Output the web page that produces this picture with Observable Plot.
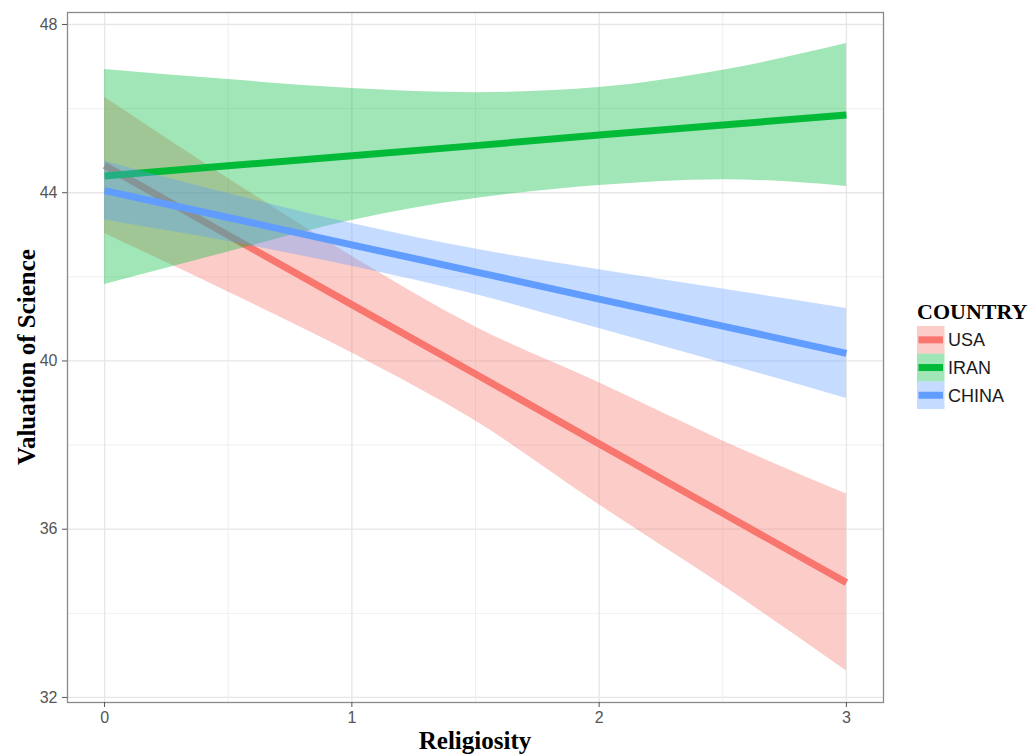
<!DOCTYPE html>
<html>
<head>
<meta charset="utf-8">
<script src="https://cdn.jsdelivr.net/npm/d3@7"></script>
<script src="https://cdn.jsdelivr.net/npm/@observablehq/plot@0.6"></script>
<style>
  html, body { margin: 0; padding: 0; background: #fff; }
  #chart { position: relative; width: 1029px; height: 755px; }
</style>
</head>
<body>
<div id="chart"></div>
<script>
// ---- data ----
const countries = ["USA", "IRAN", "CHINA"];
const colors = ["#F8766D", "#00BA38", "#619CFF"];
const religiosity = [0, 0.5, 1, 1.5, 2, 2.5, 3];

const usaFit   = [44.65, 42.99, 41.34, 39.69, 38.03, 36.38, 34.73];
const usaLow   = [43.03, 41.64, 40.19, 38.57, 36.58, 34.66, 32.63];
const usaHigh  = [46.27, 44.34, 42.49, 40.81, 39.48, 38.10, 36.84];

const iranFit  = [44.40, 44.64, 44.88, 45.12, 45.37, 45.61, 45.85];
const iranLow  = [41.82, 42.59, 43.34, 43.86, 44.17, 44.31, 44.15];
const iranHigh = [46.93, 46.69, 46.48, 46.38, 46.50, 46.91, 47.55];

const chinaFit  = [44.05, 43.41, 42.76, 42.12, 41.47, 40.83, 40.18];
const chinaLow  = [43.35, 42.84, 42.25, 41.58, 40.77, 39.95, 39.11];
const chinaHigh = [44.75, 43.98, 43.27, 42.66, 42.17, 41.71, 41.25];

const xTicks = [0, 1, 2, 3];
const xMinor = [0.5, 1.5, 2.5];
const yTicks = [32, 36, 40, 44, 48];
const yMinor = [34, 38, 42, 46];

const xLabel = "Religiosity";
const yLabel = "Valuation of Science";
const legendTitle = "COUNTRY";

// ---- build table ----
const series = [
  {country: "USA", fit: usaFit, lo: usaLow, hi: usaHigh},
  {country: "IRAN", fit: iranFit, lo: iranLow, hi: iranHigh},
  {country: "CHINA", fit: chinaFit, lo: chinaLow, hi: chinaHigh}
];
const rows = series.map(s => religiosity.map((x, i) => ({country: s.country, x, y: s.fit[i], lo: s.lo[i], hi: s.hi[i]})));

const colorOf = c => colors[countries.indexOf(c)];
const bandOpacity = 0.37;

const marks = [
  Plot.gridX(xMinor, {stroke: "#ebebeb", strokeOpacity: 1, strokeWidth: 0.8}),
  Plot.gridY(yMinor, {stroke: "#ebebeb", strokeOpacity: 1, strokeWidth: 0.8}),
  Plot.gridX(xTicks, {stroke: "#e6e6e6", strokeOpacity: 1, strokeWidth: 1.3}),
  Plot.gridY(yTicks, {stroke: "#e6e6e6", strokeOpacity: 1, strokeWidth: 1.3})
];
rows.forEach((data, k) => {
  const c = colorOf(series[k].country);
  marks.push(Plot.areaY(data, {x: "x", y1: "lo", y2: "hi", fill: c, fillOpacity: bandOpacity, curve: "monotone-x"}));
  marks.push(Plot.line(data, {x: "x", y: "y", stroke: c, strokeWidth: 7, strokeLinecap: "butt"}));
});
marks.push(Plot.frame({stroke: "#8a8a8a", strokeWidth: 1.3}));
marks.push(Plot.axisX(xTicks, {tickSize: 5, tickPadding: 4, fontSize: 16, stroke: "#555", fill: "#555", label: null, tickFormat: d => String(d)}));
marks.push(Plot.axisY(yTicks, {tickSize: 5, tickPadding: 5, fontSize: 16, stroke: "#555", fill: "#555", label: null, tickFormat: d => String(d)}));

const svg = Plot.plot({
  width: 1029,
  height: 755,
  marginLeft: 67,
  marginRight: 146,
  marginTop: 12,
  marginBottom: 53,
  style: {fontFamily: "'Liberation Sans', Arial, sans-serif", fontSize: "16px", background: "#fff"},
  x: {domain: [-0.15, 3.15]},
  y: {domain: [31.88, 48.285]},
  marks
});
document.getElementById("chart").appendChild(svg);

// ---- axis titles and legend ----
const s = d3.select(svg);
s.selectAll("g[aria-label='x-axis tick label'], g[aria-label='y-axis tick label']")
  .attr("font-size", 16).style("font-size", "16px");
s.selectAll("g[aria-label='x-axis tick label'] text, g[aria-label='y-axis tick label'] text")
  .style("font-size", "16px");

const serif = "'Liberation Serif', 'Times New Roman', serif";
s.append("text")
  .attr("x", 475).attr("y", 749)
  .attr("text-anchor", "middle")
  .style("font-family", serif)
  .style("font-weight", "bold").style("font-size", "25px").attr("fill", "#000")
  .text(xLabel);
s.append("text")
  .attr("transform", "translate(35,357) rotate(-90)")
  .attr("text-anchor", "middle")
  .style("font-family", serif)
  .style("font-weight", "bold").style("font-size", "25px").attr("fill", "#000")
  .text(yLabel);

const lg = s.append("g").attr("text-anchor", "start");
lg.append("text")
  .attr("x", 917).attr("y", 319)
  .attr("text-anchor", "start")
  .style("font-family", serif)
  .style("font-weight", "bold").style("font-size", "22px").attr("fill", "#000")
  .text(legendTitle);
countries.forEach((c, i) => {
  const y0 = 326 + i * 27.7;
  lg.append("rect").attr("x", 917).attr("y", y0).attr("width", 27.5).attr("height", 27.7)
    .attr("fill", colors[i]).attr("fill-opacity", bandOpacity);
  lg.append("line").attr("x1", 918.5).attr("x2", 943).attr("y1", y0 + 13.85).attr("y2", y0 + 13.85)
    .attr("stroke", colors[i]).attr("stroke-width", 7);
  lg.append("text").attr("x", 948).attr("y", y0 + 13.85).attr("dy", "0.36em")
    .attr("text-anchor", "start")
    .style("font-family", "'Liberation Sans', Arial, sans-serif").style("font-size", "18px")
    .attr("fill", "#1a1a1a").text(c);
});
</script>
</body>
</html>
